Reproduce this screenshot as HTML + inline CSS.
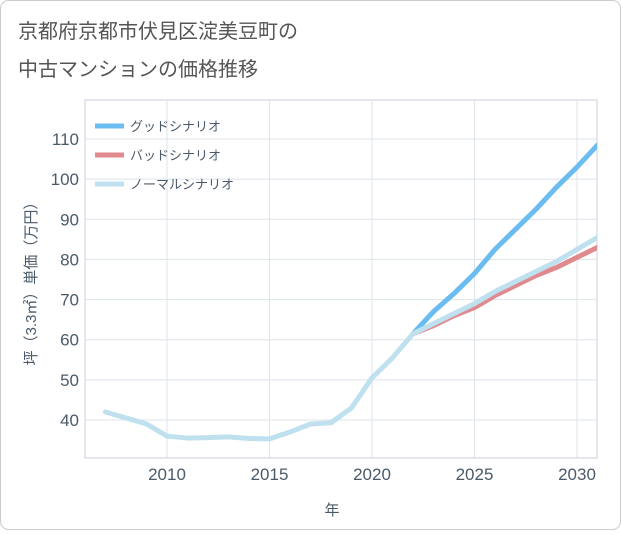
<!DOCTYPE html>
<html><head><meta charset="utf-8"><style>
body{margin:0;background:#fff;}
svg text{font-family:"Liberation Sans","Noto Sans CJK JP",sans-serif;}
</style></head><body>
<svg width="621" height="530" xmlns="http://www.w3.org/2000/svg">
<rect x="0.5" y="0.5" width="620" height="529" rx="8" fill="#fff" stroke="#ccc"/>
<text x="18" y="38" font-size="20" fill="#555">京都府京都市伏見区淀美豆町の</text>
<text x="18" y="76" font-size="20" fill="#555">中古マンションの価格推移</text>
<g id="grid"></g>
<g id="series"></g>
<g id="legend"></g>
<text transform="translate(36,280) rotate(-90)" text-anchor="middle" font-size="15" fill="#4a5a6a">坪（3.3㎡）単価（万円）</text>
<text x="332" y="515" text-anchor="middle" font-size="15" fill="#4a5a6a">年</text>
<script>
const years=[2007,2008,2009,2010,2011,2012,2013,2014,2015,2016,2017,2018,2019,2020,2021,2022,2023,2024,2025,2026,2027,2028,2029,2030,2031];
const normalVals=[42,40.5,39,36,35.5,35.6,35.8,35.4,35.3,37,39,39.3,43,50.5,55.5,61.5,64,66.5,69,72,74.5,77,79.5,82.5,85.5];
const futureYears=[2022,2023,2024,2025,2026,2027,2028,2029,2030,2031];
const goodVals=[61.5,67,71.5,76.5,82.5,87.5,92.5,98,103,108.5];
const badVals=[61.5,63.5,66,68,71,73.5,76,78,80.5,83];
const yTicks=[40,50,60,70,80,90,100,110];
const xTicks=[2010,2015,2020,2025,2030];
const L=85,R=597,T=100,B=458;
const x=v=>167+(v-2010)*20.5;
const y=v=>420-(v-40)*(281/70);
const NS="http://www.w3.org/2000/svg";
function mk(tag,attrs,parent){const e=document.createElementNS(NS,tag);for(const k in attrs)e.setAttribute(k,attrs[k]);parent.appendChild(e);return e;}
const g=document.getElementById('grid');
mk('rect',{x:L,y:T,width:R-L,height:B-T,fill:'none',stroke:'#ccd'},g);
yTicks.forEach(t=>{
 const l=mk('line',{x1:L,x2:R,y1:y(t),y2:y(t),stroke:'#dde4ea'},g);
 
 
 const tx=mk('text',{x:L-6,y:y(t)+6,'text-anchor':'end','font-size':17,fill:'#4a5a6a'},g);
 tx.textContent=t;
 
 
});
xTicks.forEach(t=>{
 const l=mk('line',{x1:x(t),x2:x(t),y1:T,y2:B,stroke:'#dde4ea'},g);
 
 
 const tx=mk('text',{x:x(t),y:B+22,'text-anchor':'middle','font-size':17,fill:'#4a5a6a'},g);
 tx.textContent=t;
 
 
});
const s=document.getElementById('series');
function line(xs,vs,color,name){
 const p=mk('polyline',{points:xs.map((v,i)=>x(v)+','+y(vs[i])).join(' '),fill:'none',stroke:color,'stroke-width':5,'stroke-linejoin':'round','stroke-linecap':'round','clip-path':'url(#clip)'},s);
 
 
}
const defs=mk('defs',{},s);const cp=mk('clipPath',{id:'clip'},defs);mk('rect',{x:L,y:T,width:R-L,height:B-T},cp);
line(futureYears,goodVals,'#6bbcf0','good-scenario-line');
line(futureYears,badVals,'#e08a8f','bad-scenario-line');
line(years,normalVals,'#bfe0ee','normal-scenario-line');
const lg=document.getElementById('legend');
[['グッドシナリオ','#6bbcf0','legend-good'],['バッドシナリオ','#e08a8f','legend-bad'],['ノーマルシナリオ','#bfe0ee','legend-normal']].forEach((d,i)=>{
 const yy=126+i*29;
 const r=mk('line',{x1:95,x2:124,y1:yy,y2:yy,stroke:d[1],'stroke-width':5},lg);
 
 
 const t=mk('text',{x:130,y:yy+5,'font-size':13,fill:'#4a5a6a'},lg);
 t.textContent=d[0];
 
 
});
</script>
</svg>
</body></html>
